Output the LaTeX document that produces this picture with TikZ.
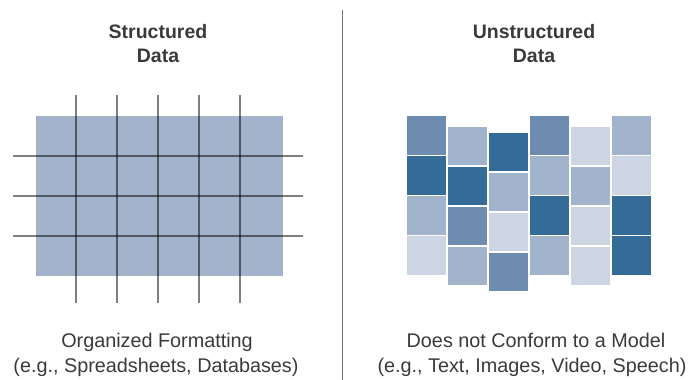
\documentclass[tikz,border=0pt]{standalone}
\usepackage{fontspec}
\setmainfont{Liberation Sans}
\definecolor{cD}{HTML}{356C97}
\definecolor{cM}{HTML}{6E8CB0}
\definecolor{cL}{HTML}{A2B4CB}
\definecolor{cV}{HTML}{CDD4E2}
\definecolor{gridfill}{HTML}{A3B3CC}
\definecolor{txt}{HTML}{3A3A3A}
\definecolor{divider}{HTML}{707070}
\tikzset{
  titletext/.style={anchor=base, inner sep=0pt, font=\bfseries\fontsize{19.5}{23}\selectfont, text=txt},
  bodytext/.style={anchor=base, inner sep=0pt, font=\fontsize{19.8}{24}\selectfont, text=txt},
  gridline/.style={line width=2pt, draw=black, draw opacity=0.5},
  cellbox/.style={fill=#1},
}
\newcommand{\ucell}[3]{\fill[cellbox=#3] (#1,#2) rectangle ++(39.5,38.5);}
\begin{document}
\begin{tikzpicture}[x=1pt,y=-1pt]
\useasboundingbox (0,0) rectangle (689,380);
% titles
\node[titletext] (t1a) at (158,38) {Structured};
\node[titletext] (t1b) at (158,63) {Data};
\node[titletext] (t2a) at (534,38) {Unstructured};
\node[titletext] (t2b) at (534,63) {Data};
% divider
\draw[divider, line width=1.5pt] (342.3,10) -- (342.3,380);
% structured grid
\fill[gridfill] (36,116) rectangle (283,276);
\foreach \x in {76,117,158,199,240} {\draw[gridline] (\x,95) -- (\x,303);}
\foreach \y in {156,196,236} {\draw[gridline] (13,\y) -- (303,\y);}
% unstructured cells
% col1
\ucell{406.5}{116}{cM}\ucell{406.5}{156}{cD}\ucell{406.5}{196}{cL}\ucell{406.5}{236}{cV}
% col2
\ucell{447.5}{126.5}{cL}\ucell{447.5}{166.5}{cD}\ucell{447.5}{206.5}{cM}\ucell{447.5}{246.5}{cL}
% col3
\ucell{488.5}{132.5}{cD}\ucell{488.5}{172.5}{cL}\ucell{488.5}{212.5}{cV}\ucell{488.5}{252.5}{cM}
% col4
\ucell{529.5}{116}{cM}\ucell{529.5}{156}{cL}\ucell{529.5}{196}{cD}\ucell{529.5}{236}{cL}
% col5
\ucell{570.5}{126.5}{cV}\ucell{570.5}{166.5}{cL}\ucell{570.5}{206.5}{cV}\ucell{570.5}{246.5}{cV}
% col6
\ucell{611.5}{116}{cL}\ucell{611.5}{156}{cV}\ucell{611.5}{196}{cD}\ucell{611.5}{236}{cD}
% bottom texts
\node[bodytext] (b1a) at (157,347) {Organized Formatting};
\node[bodytext] (b1b) at (156,372) {(e.g., Spreadsheets, Databases)};
\node[bodytext] (b2a) at (536,347) {Does not Conform to a Model};
\node[bodytext] (b2b) at (532,372) {(e.g., Text, Images, Video, Speech)};
\end{tikzpicture}
\end{document}
